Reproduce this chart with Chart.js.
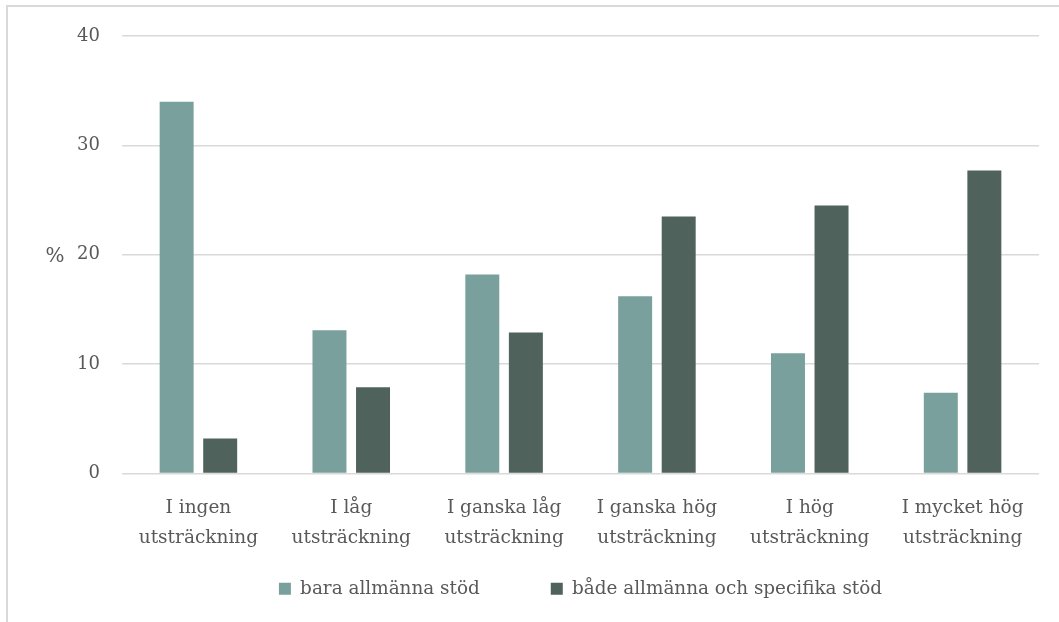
<!DOCTYPE html>
<html lang="sv">
<head>
    <meta charset="UTF-8">
    <title>Stöd och utsträckning</title>
    <script src="https://cdn.jsdelivr.net/npm/chart.js"></script>
    <style>
        html, body {
            margin: 0;
            padding: 0;
            background: #fff;
            overflow: hidden;
        }
        .frame {
            position: absolute;
            left: 6px;
            top: 5px;
            width: 1070px;
            height: 640px;
            border: 2px solid #d9d9d9;
        }
        .chart-box {
            position: absolute;
            left: 0;
            top: 0;
            width: 1059px;
            height: 622px;
        }
    </style>
</head>
<body>
    <div class="frame"></div>
    <div class="chart-box">
        <canvas id="chart"></canvas>
    </div>

    <script>
        // data
        const categories = [
            ['I ingen', 'utsträckning'],
            ['I låg', 'utsträckning'],
            ['I ganska låg', 'utsträckning'],
            ['I ganska hög', 'utsträckning'],
            ['I hög', 'utsträckning'],
            ['I mycket hög', 'utsträckning']
        ];
        const baraAllmanna = [34.0, 13.1, 18.2, 16.2, 11.0, 7.4];
        const badeAllmannaSpecifika = [3.2, 7.9, 12.9, 23.5, 24.5, 27.7];
        const seriesNames = ['bara allmänna stöd', 'både allmänna och specifika stöd'];
        const yTicks = [0, 10, 20, 30, 40];
        const yTitle = '%';

        const textColor = '#595959';
        const fontFamily = '"DejaVu Serif", "Liberation Serif", serif';

        // "%" sits horizontally left of the y axis
        const yTitlePlugin = {
            id: 'yTitle',
            afterDraw(chart) {
                const ctx = chart.ctx;
                const y = chart.scales.y;
                ctx.save();
                ctx.fillStyle = textColor;
                ctx.font = '20px ' + fontFamily;
                ctx.textAlign = 'center';
                ctx.textBaseline = 'middle';
                ctx.fillText(yTitle, 55, y.getPixelForValue(yTicks[2]) + 2);
                ctx.restore();
            }
        };

        const defaultLabels = Chart.defaults.plugins.legend.labels.generateLabels;

        const ctx = document.getElementById('chart').getContext('2d');
        new Chart(ctx, {
            type: 'bar',
            data: {
                labels: categories,
                datasets: [
                    {
                        label: seriesNames[0],
                        data: baraAllmanna,
                        backgroundColor: '#79a09d',
                        categoryPercentage: 0.57,
                        barPercentage: 0.78
                    },
                    {
                        label: seriesNames[1],
                        data: badeAllmannaSpecifika,
                        backgroundColor: '#4f625b',
                        categoryPercentage: 0.57,
                        barPercentage: 0.78
                    }
                ]
            },
            options: {
                responsive: true,
                maintainAspectRatio: false,
                animation: false,
                layout: {
                    padding: { left: 20, right: 20, top: 36, bottom: 14 }
                },
                plugins: {
                    legend: {
                        position: 'bottom',
                        fullSize: false, // centre under the plot area
                        labels: {
                            color: textColor,
                            font: { family: fontFamily, size: 18.4 },
                            boxWidth: 12,
                            boxHeight: 12,
                            padding: 10,
                            // wider gap between the two items
                            generateLabels(chart) {
                                const items = defaultLabels(chart);
                                items.forEach((it, i) => {
                                    if (i < items.length - 1) it.text += '\u2003\u2003\u2003 ';
                                });
                                return items;
                            }
                        }
                    },
                    tooltip: { enabled: false }
                },
                scales: {
                    x: {
                        grid: { display: false },
                        border: { display: false },
                        ticks: {
                            color: textColor,
                            font: { family: fontFamily, size: 18.5, lineHeight: 1.64 },
                            padding: 11,
                            maxRotation: 0
                        },
                        afterFit(scale) { scale.height = 96; }
                    },
                    y: {
                        min: 0,
                        max: 40,
                        afterBuildTicks(scale) {
                            scale.ticks = yTicks.map(v => ({ value: v }));
                        },
                        grid: {
                            color: '#d9d9d9',
                            lineWidth: 1.6,
                            drawTicks: false
                        },
                        border: { display: false },
                        ticks: {
                            color: textColor,
                            font: { family: fontFamily, size: 18 },
                            padding: 22
                        },
                        afterFit(scale) { scale.width = 102; }
                    }
                }
            },
            plugins: [yTitlePlugin]
        });
    </script>
</body>
</html>
